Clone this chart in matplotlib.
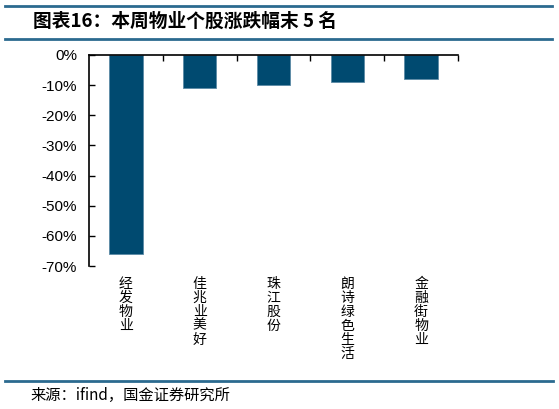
import matplotlib.pyplot as plt
from matplotlib.lines import Line2D
from matplotlib.ticker import FuncFormatter

plt.rcParams['font.family'] = ['Liberation Sans', 'Noto Sans CJK SC', 'DejaVu Sans']

stocks = ["经发物业", "佳兆业美好", "珠江股份", "朗诗绿色生活", "金融街物业"]
change_pct = [-66.1, -10.8, -9.8, -9.0, -8.0]
yticks = [0, -10, -20, -30, -40, -50, -60, -70]

bar_color = "#004a70"
line_color = "#2b6a8f"

fig = plt.figure(figsize=(5.59, 4.09), dpi=100)
ax = fig.add_axes([89 / 559, 1 - 266 / 409, 369 / 559, 211 / 409])

x = list(range(len(stocks)))
ax.bar(x, change_pct, width=0.45, color=bar_color, edgecolor="#5c8aa6", linewidth=0.6)

ax.set_xlim(-0.5, len(stocks) - 0.5)
ax.set_ylim(-70, 0)
ax.set_yticks(yticks)
ax.yaxis.set_major_formatter(FuncFormatter(lambda v, p: f"{v:.0f}%"))
ax.tick_params(axis="y", direction="in", length=4, width=1, labelsize=11, pad=8.5)

ax.xaxis.tick_top()
ax.set_xticks([i + 0.5 for i in x])
ax.set_xticklabels([])
ax.tick_params(axis="x", direction="in", length=4, width=1)

ax.spines["bottom"].set_visible(False)
ax.spines["right"].set_visible(False)
ax.spines["top"].set_linewidth(1.2)
ax.spines["left"].set_linewidth(1.2)

for i, name in zip(x, stocks):
    ax.text(i, -0.05, "\n".join(name), transform=ax.get_xaxis_transform(),
            ha="center", va="top", fontsize=10, linespacing=1.0,
            family=["Noto Sans CJK SC", "DejaVu Sans"])

# header / footer
fig.add_artist(Line2D([5 / 559, 552 / 559], [1 - 6 / 409] * 2, color=line_color, lw=2))
fig.add_artist(Line2D([5 / 559, 552 / 559], [1 - 39 / 409] * 2, color=line_color, lw=2))
fig.add_artist(Line2D([5 / 559, 553 / 559], [1 - 381 / 409] * 2, color=line_color, lw=2))

fig.text(33 / 559, 1 - 21 / 409, "图表16：本周物业个股涨跌幅末 5 名", ha="left", va="center",
         fontsize=13.5, fontweight="bold", style="italic",
         family=["Noto Sans CJK SC", "DejaVu Sans"])
fig.text(30 / 559, 1 - 395 / 409, "来源：ifind，国金证券研究所", ha="left", va="center",
         fontsize=11, family=["Noto Sans CJK SC", "DejaVu Sans"])

fig.savefig("out.png", dpi=100)
